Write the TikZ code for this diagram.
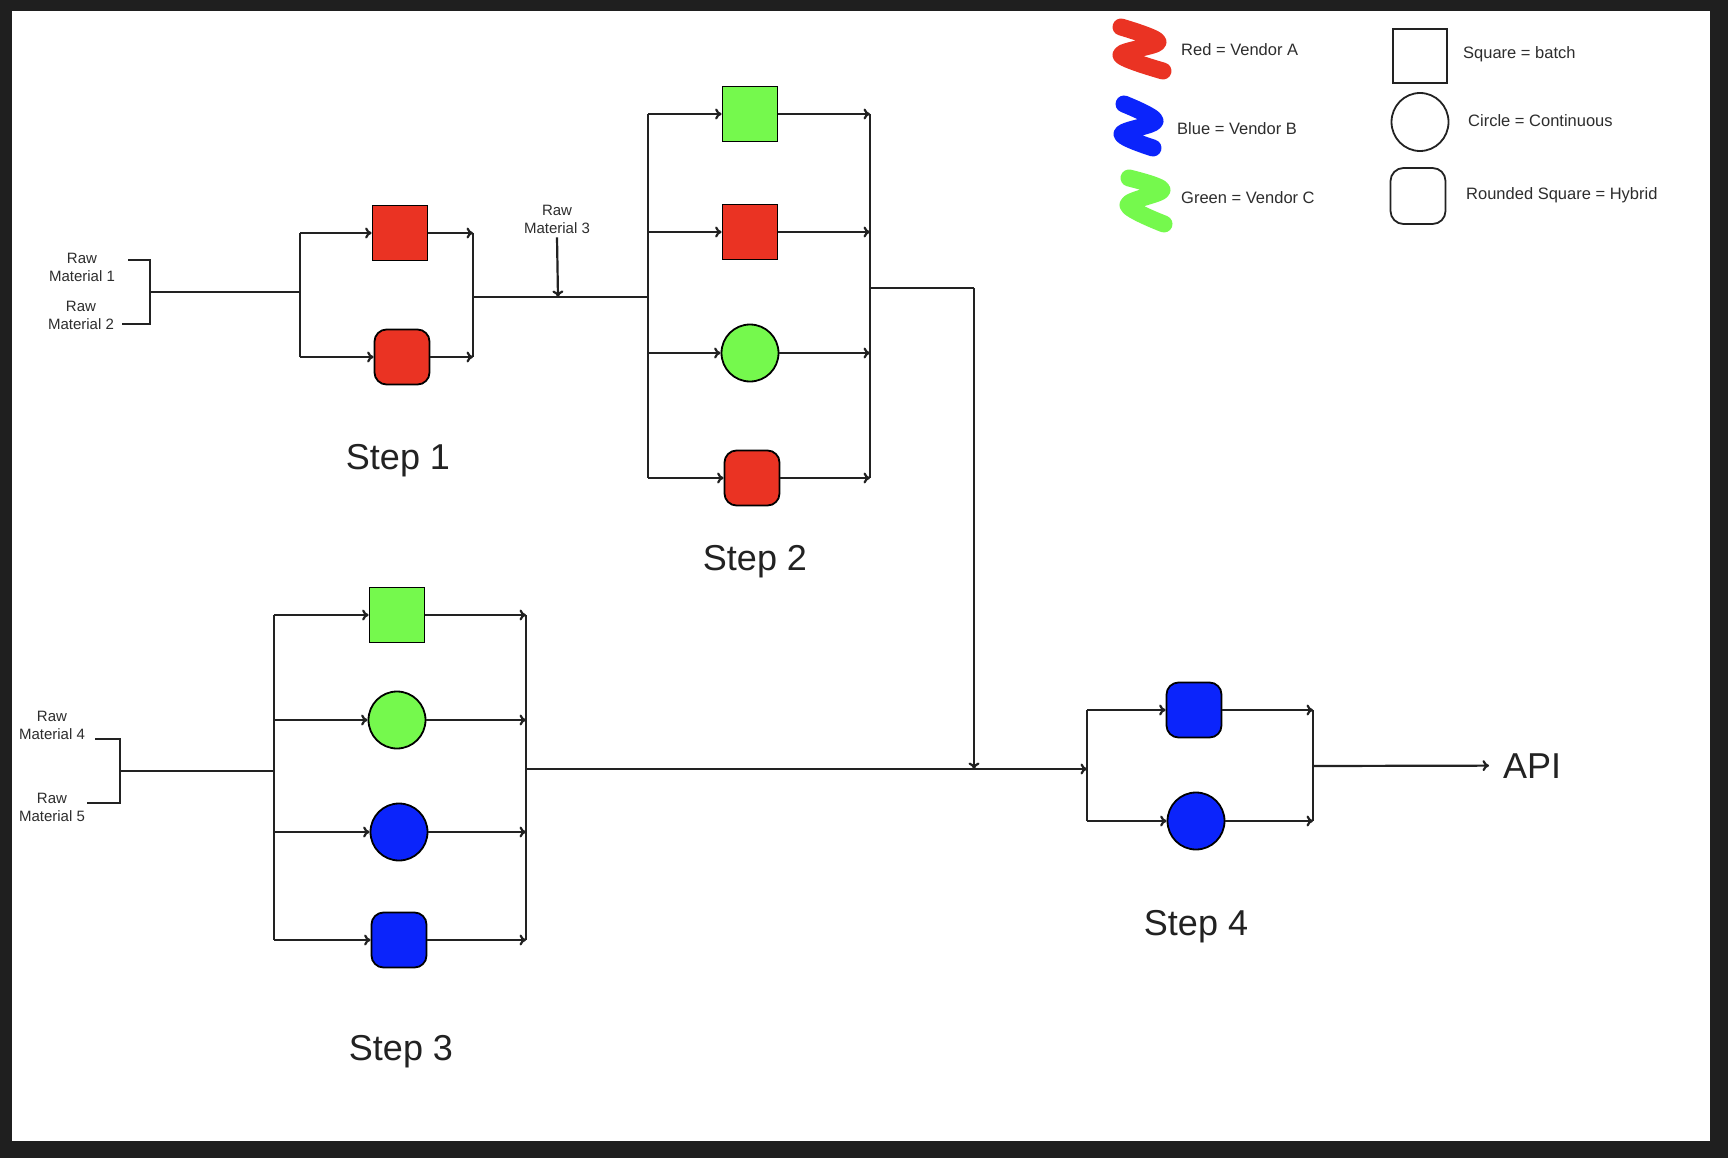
\documentclass[tikz,border=0pt]{standalone}
\usepackage{fontspec}
\setmainfont{Liberation Sans}
\usetikzlibrary{arrows.meta,shapes.geometric}
\definecolor{vendorA}{RGB}{234,51,35}
\definecolor{vendorB}{RGB}{11,36,251}
\definecolor{vendorC}{RGB}{117,249,77}
\definecolor{frame}{RGB}{31,31,31}
\definecolor{ink}{RGB}{34,34,34}
\definecolor{labelgray}{RGB}{45,45,45}
\begin{document}
\begin{tikzpicture}[x=1pt,y=-1pt,
  wire/.style={draw=ink, line width=2.2pt},
  arr/.style={wire, -{To[length=6.5pt,width=11pt]}},
  unit/.style={draw=black, line width=1.8pt, minimum width=55pt, minimum height=55pt, inner sep=0pt},
  batch/.style={unit, rectangle},
  hybrid/.style={unit, rectangle, rounded corners=12pt},
  cont/.style={unit, circle, minimum size=57pt},
  rawlbl/.style={font=\fontsize{15}{18}\selectfont, align=center, text=labelgray, inner sep=4pt},
  steplbl/.style={font=\fontsize{36}{42}\selectfont, anchor=base, text=ink},
  keytext/.style={font=\fontsize{16.5}{19}\selectfont, anchor=base west, text=labelgray, inner sep=0pt},
  keyshape/.style={draw=ink, line width=1.8pt, inner sep=0pt},
  scribble/.style={line width=17pt, line cap=round, line join=round},
]
\useasboundingbox (0,0) rectangle (1728,1158);
\fill[frame] (0,0) rectangle (1728,1158);
\fill[white] (12,11) rectangle (1710,1141);

% ---------- Step 1 ----------
\node[rawlbl] (rm1) at (82,267) {Raw\\Material 1};
\node[rawlbl] (rm2) at (81,315) {Raw\\Material 2};
\coordinate (b1t) at (128,260);
\coordinate (b1b) at (122,324);
\coordinate (br1) at (150,292);
\coordinate (sp1) at (300,292);
\coordinate (cl1) at (473,297);

\node[batch, fill=vendorA]  (s1a) at (400,233) {};
\node[hybrid, fill=vendorA] (s1b) at (402,357) {};

\draw[wire] (b1t) -| (br1) |- (b1b);
\draw[wire] (br1) -- (sp1);
\draw[wire] (sp1 |- s1a) -- (sp1 |- s1b);
\draw[arr] (sp1 |- s1a) -- (s1a.west);
\draw[arr] (sp1 |- s1b) -- (s1b.west);
\draw[arr] (s1a.east) -- (cl1 |- s1a);
\draw[arr] (s1b.east) -- (cl1 |- s1b);
\draw[wire] (cl1 |- s1a) -- (cl1 |- s1b);
\node[steplbl] (lbl1) at (398,469) {Step 1};

% ---------- Step 2 ----------
\node[rawlbl] (rm3) at (557,219) {Raw\\Material 3};
\coordinate (m3) at (558,297);
\coordinate (sp2) at (648,297);
\coordinate (cl2) at (870,288);
\coordinate (dn) at (974,288);

\node[batch, fill=vendorC]  (s2a) at (750,114) {};
\node[batch, fill=vendorA]  (s2b) at (750,232) {};
\node[cont, fill=vendorC]   (s2c) at (750,353) {};
\node[hybrid, fill=vendorA] (s2d) at (752,478) {};

\draw[wire] (cl1) -- (sp2);
\draw[arr] (rm3.south) -- (m3);
\draw[wire] (sp2 |- s2a) -- (sp2 |- s2d);
\foreach \s in {s2a,s2b,s2c,s2d}{
  \draw[arr] (sp2 |- \s) -- (\s.west);
  \draw[arr] (\s.east) -- (cl2 |- \s);
}
\draw[wire] (cl2 |- s2a) -- (cl2 |- s2d);
\node[steplbl] (lbl2) at (755,570) {Step 2};

% ---------- Step 3 ----------
\node[rawlbl] (rm4) at (52,725) {Raw\\Material 4};
\node[rawlbl] (rm5) at (52,807) {Raw\\Material 5};
\coordinate (b4t) at (95,739);
\coordinate (b4b) at (87,803);
\coordinate (br3) at (120,771);
\coordinate (sp3) at (274,771);
\coordinate (cl3) at (526,769);

\node[batch, fill=vendorC]  (s3a) at (397,615) {};
\node[cont, fill=vendorC]   (s3b) at (397,720) {};
\node[cont, fill=vendorB]   (s3c) at (399,832) {};
\node[hybrid, fill=vendorB] (s3d) at (399,940) {};

\draw[wire] (b4t) -| (br3) |- (b4b);
\draw[wire] (br3) -- (sp3);
\draw[wire] (sp3 |- s3a) -- (sp3 |- s3d);
\foreach \s in {s3a,s3b,s3c,s3d}{
  \draw[arr] (sp3 |- \s) -- (\s.west);
  \draw[arr] (\s.east) -- (cl3 |- \s);
}
\draw[wire] (cl3 |- s3a) -- (cl3 |- s3d);
\node[steplbl] (lbl3) at (401,1060) {Step 3};

% ---------- Step 4 ----------
\coordinate (sp4) at (1087,769);
\coordinate (cl4) at (1313,766);

\node[hybrid, fill=vendorB] (s4a) at (1194,710) {};
\node[cont, fill=vendorB]   (s4b) at (1196,821) {};

\draw[wire] (cl2) -- (dn);
\draw[arr] (dn) -- (dn |- sp4);
\draw[arr] (cl3) -- (sp4);
\draw[wire] (sp4 |- s4a) -- (sp4 |- s4b);
\foreach \s in {s4a,s4b}{
  \draw[arr] (sp4 |- \s) -- (\s.west);
  \draw[arr] (\s.east) -- (cl4 |- \s);
}
\draw[wire] (cl4 |- s4a) -- (cl4 |- s4b);
\node[steplbl] (lbl4) at (1196,935) {Step 4};

\node[font=\fontsize{36}{42}\selectfont, anchor=base west, text=ink,
      inner xsep=14pt, inner ysep=0pt] (api) at (1489,778) {API};
\draw[arr] (cl4) -- (api.west);

% ---------- Key ----------
\draw[scribble, vendorA] plot[smooth, tension=0.55] coordinates {(1121,27) (1158,42) (1121,55) (1163,71)};
\draw[scribble, vendorB] plot[smooth, tension=0.55] coordinates {(1124,104) (1155,121) (1122,134) (1153,148)};
\draw[scribble, vendorC] plot[smooth, tension=0.55] coordinates {(1129,178) (1162,190) (1128,205) (1164,224)};

\node[keytext] (kA) at (1181,56) {Red = Vendor A};
\node[keytext] (kB) at (1177,135) {Blue = Vendor B};
\node[keytext] (kC) at (1181,204) {Green = Vendor C};

\node[keyshape, rectangle, minimum width=54pt, minimum height=54pt] (ksq) at (1420,56) {};
\node[keyshape, ellipse, minimum width=57pt, minimum height=58pt] (kci) at (1420,122) {};
\node[keyshape, rectangle, rounded corners=13pt, minimum width=55pt, minimum height=56pt] (krs) at (1418,196) {};

\node[keytext] (ksqt) at (1463,59) {Square = batch};
\node[keytext] (kcit) at (1468,127) {Circle = Continuous};
\node[keytext] (krst) at (1466,200) {Rounded Square = Hybrid};
\end{tikzpicture}
\end{document}
